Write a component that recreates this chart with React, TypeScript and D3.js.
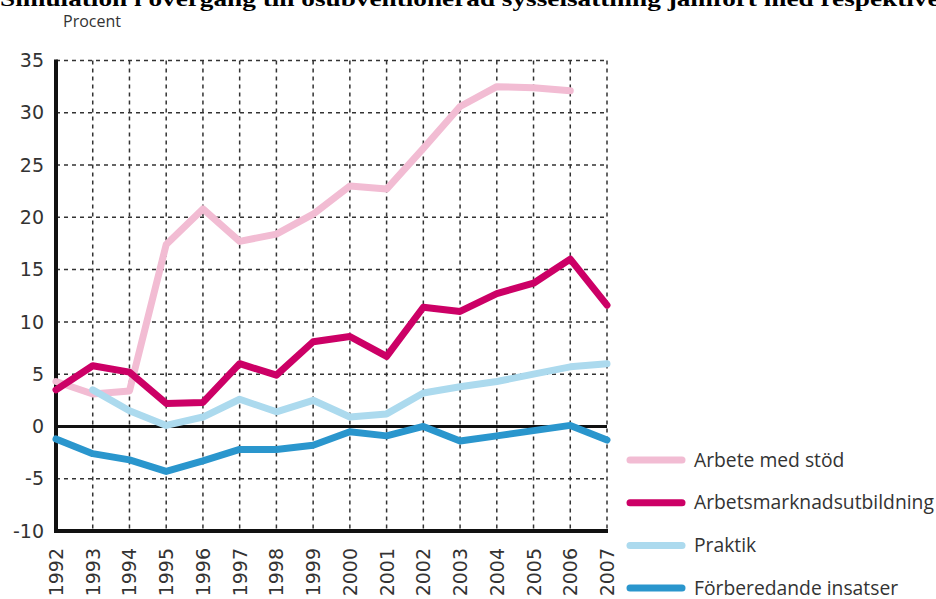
import React from "react";
import * as d3 from "d3";

const years = [1992, 1993, 1994, 1995, 1996, 1997, 1998, 1999, 2000, 2001, 2002, 2003, 2004, 2005, 2006, 2007];

// null = no value that year
const arbeteMedStod = [4.3, 3.1, 3.4, 17.4, 20.8, 17.7, 18.4, 20.3, 23.0, 22.7, 26.6, 30.6, 32.5, 32.4, 32.1, null];
const arbetsmarknadsutb = [3.5, 5.8, 5.2, 2.2, 2.3, 6.0, 4.9, 8.1, 8.6, 6.7, 11.4, 11.0, 12.7, 13.7, 16.0, 11.6];
const praktik = [null, 3.5, 1.5, 0.1, 0.9, 2.6, 1.4, 2.5, 0.9, 1.2, 3.2, 3.8, 4.3, 5.0, 5.7, 6.0];
const forberedande = [-1.2, -2.6, -3.2, -4.3, -3.3, -2.2, -2.2, -1.8, -0.5, -0.9, 0.0, -1.4, -0.9, -0.4, 0.1, -1.3];

const yTicks = [35, 30, 25, 20, 15, 10, 5, 0, -5, -10];

const series = [
  { name: "Arbete med stöd", values: arbeteMedStod, color: "#f2bcd3" },
  { name: "Arbetsmarknadsutbildning", values: arbetsmarknadsutb, color: "#cc0066" },
  { name: "Praktik", values: praktik, color: "#acdaee" },
  { name: "Förberedande insatser", values: forberedande, color: "#2a96cd" },
];

const W = 936;
const H = 599;

const App = () => {
  const x = d3.scaleLinear().domain([1992, 2007]).range([56, 607]);
  const y = d3.scaleLinear().domain([-10, 35]).range([531, 60.5]);

  const line = d3
    .line<[number, number | null]>()
    .defined((d) => d[1] !== null)
    .x((d) => x(d[0]))
    .y((d) => y(d[1] as number));

  const tickFont = "'DejaVu Sans', sans-serif";
  const legendFont = "'Open Sans', sans-serif";

  return (
    <svg width={W} height={H} style={{ position: "absolute", left: 0, top: 0, background: "#fff" }}>
      {/* title, cut off at the top like in the scan */}
      <text
        x={0}
        y={6}
        fontFamily="'Liberation Serif', serif"
        fontWeight="bold"
        fontSize={22}
        textLength={960}
        lengthAdjust="spacingAndGlyphs"
        fill="#000"
      >
        Simulation i övergång till osubventionerad sysselsättning jämfört med respektive å
      </text>
      <text x={63} y={27} fontFamily={legendFont} fontSize={16} fill="#333">Procent</text>

      {/* grid */}
      <g stroke="#333" strokeWidth={1.5} strokeDasharray="4,4">
        {yTicks.filter((t) => t !== 0 && t !== -10).map((t) => (
          <line key={`h${t}`} x1={x(1992)} x2={x(2007)} y1={y(t)} y2={y(t)} />
        ))}
        {years.slice(1).map((yr) => (
          <line key={`v${yr}`} x1={x(yr)} x2={x(yr)} y1={y(35)} y2={y(-10)} />
        ))}
      </g>

      {/* axes */}
      <line x1={x(1992)} x2={x(2007)} y1={y(0)} y2={y(0)} stroke="#111" strokeWidth={3} />
      <line x1={x(1992)} x2={x(2007) + 1} y1={y(-10)} y2={y(-10)} stroke="#111" strokeWidth={4} />
      <line x1={x(1992)} x2={x(1992)} y1={y(35) - 1} y2={y(-10) + 2} stroke="#111" strokeWidth={4} />

      {yTicks.map((t) => (
        <text key={`yt${t}`} x={44} y={y(t)} dy="0.35em" textAnchor="end" fontFamily={tickFont} fontSize={19} fill="#333">
          {t}
        </text>
      ))}
      {years.map((yr) => (
        <text
          key={`xt${yr}`}
          transform={`translate(${x(yr) + 7},548) rotate(-90)`}
          textAnchor="end"
          fontFamily={tickFont}
          fontSize={19}
          fill="#333"
        >
          {yr}
        </text>
      ))}

      {/* lines */}
      {series.map((s) => (
        <path
          key={s.name}
          d={line(years.map((yr, i) => [yr, s.values[i]])) || ""}
          fill="none"
          stroke={s.color}
          strokeWidth={7}
          strokeLinejoin="round"
          strokeLinecap="round"
        />
      ))}

      {/* legend */}
      {series.map((s, i) => {
        const ly = 460 + i * 42.7;
        return (
          <g key={`lg${s.name}`}>
            <line x1={630} x2={682} y1={ly} y2={ly} stroke={s.color} strokeWidth={7} strokeLinecap="round" />
            <text x={694} y={ly} dy="0.35em" fontFamily={legendFont} fontSize={19.3} fill="#333">
              {s.name}
            </text>
          </g>
        );
      })}
    </svg>
  );
};

export default App;
